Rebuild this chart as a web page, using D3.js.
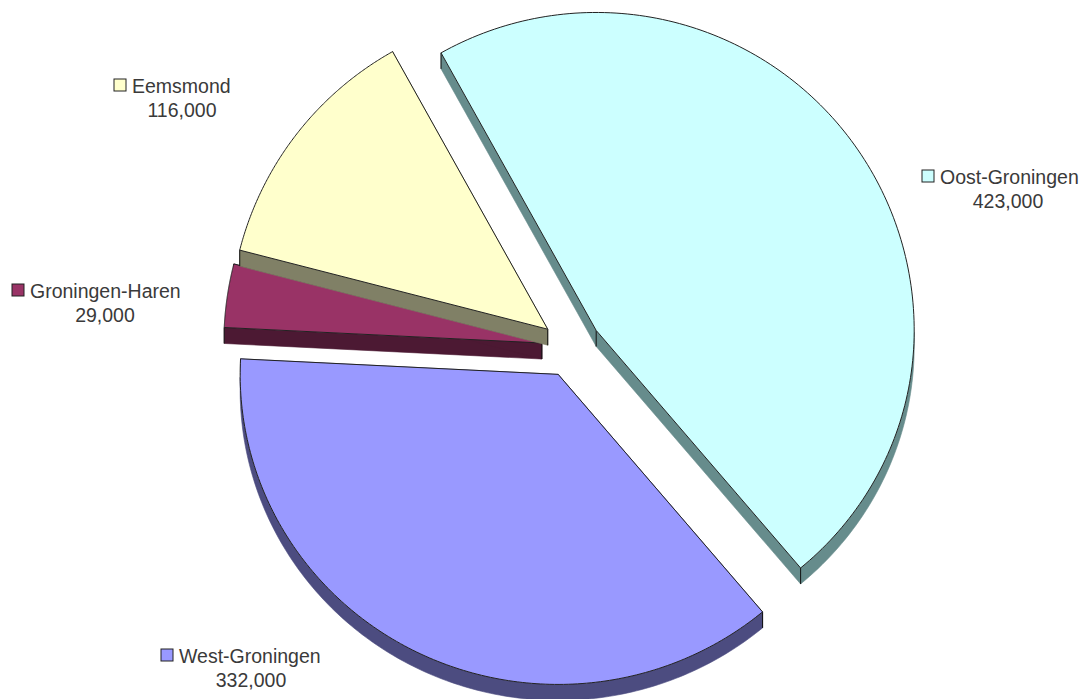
<!DOCTYPE html>
<html><head><meta charset="utf-8">
<script src="https://cdn.jsdelivr.net/npm/d3@7"></script>
<style>html,body{margin:0;padding:0;background:#fff;overflow:hidden}svg{display:block}
text{font-family:"Liberation Sans",Arial,sans-serif;font-size:19.5px;fill:#3a3a3a}</style>
</head><body><svg id="c" width="1082" height="699"></svg>
<script>
const categories=["Oost-Groningen","West-Groningen","Groningen-Haren","Eemsmond"];
const values=[423000,332000,29000,116000];
const valueLabels=["423,000","332,000","29,000","116,000"];
const topColors=["#CCFFFF","#9999FF","#993366","#FFFFCC"];
const sideColors=["#668C8C","#4C4C80","#4C1933","#808066"];
const nameX=[940,179,30,132];
const nameY=[184,663,298,93];
const valueX=[1008,251,105,182];

const cx=571.5,cy=347.5,R=318,explode=30,depth=16;
const svg=d3.select("#c");
const start=-29.2*Math.PI/180;
const pie=d3.pie().sort(null).startAngle(start).endAngle(start+2*Math.PI);
const arcs=pie(values);
// slight foreshortening of the lower half of the tilted disc
const yProj=d3.scaleLinear().domain([-R,0,R]).range([-R,0,R*0.975]);
const pt=(a,r)=>[r*Math.sin(a),yProj(-r*Math.cos(a))];
const line=d3.line();

function wallPath(pts){
  return line(pts.concat(pts.slice().reverse().map(p=>[p[0],p[1]+depth])))+"Z";
}
const g=svg.selectAll("g.s").data(arcs).join("g").attr("class","s")
 .attr("transform",d=>{const m=(d.startAngle+d.endAngle)/2;return `translate(${cx+explode*Math.sin(m)},${cy-explode*Math.cos(m)})`;});

g.each(function(d,i){
  const s=d3.select(this);
  const steps=d3.range(0,161).map(k=>d.startAngle+(d.endAngle-d.startAngle)*k/160);
  const walls=[[[0,0],pt(d.startAngle,R)],[[0,0],pt(d.endAngle,R)]];
  const norm=a=>((a%(2*Math.PI))+2*Math.PI)%(2*Math.PI);
  const front=steps.filter(a=>{const n=norm(a);return n>=Math.PI/2&&n<=3*Math.PI/2;});
  if(front.length>1) walls.push(front.map(a=>pt(a,R)));
  walls.forEach(w=>s.append("path").attr("d",wallPath(w)).attr("fill",sideColors[i]).attr("stroke",sideColors[i]).attr("stroke-width",0.6));
  [[0,0],pt(d.startAngle,R),pt(d.endAngle,R)].forEach(p=>{
    s.append("line").attr("x1",p[0]).attr("y1",p[1]).attr("x2",p[0]).attr("y2",p[1]+depth).attr("stroke","#111").attr("stroke-width",1);
  });
  s.append("path").attr("d",line([[0,0]].concat(steps.map(a=>pt(a,R))))+"Z")
   .attr("fill",topColors[i]).attr("stroke","#222").attr("stroke-width",1);
});

const lab=svg.selectAll("g.l").data(categories).join("g").attr("class","l");
lab.append("text").attr("x",(d,i)=>nameX[i]).attr("y",(d,i)=>nameY[i]).text(d=>d);
lab.append("text").attr("text-anchor","middle").attr("x",(d,i)=>valueX[i]).attr("y",(d,i)=>nameY[i]+24).text((d,i)=>valueLabels[i]);
lab.append("rect").attr("x",(d,i)=>nameX[i]-18).attr("y",(d,i)=>nameY[i]-14).attr("width",12).attr("height",12)
 .attr("fill",(d,i)=>topColors[i]).attr("stroke","#222").attr("stroke-width",1);
</script></body></html>
